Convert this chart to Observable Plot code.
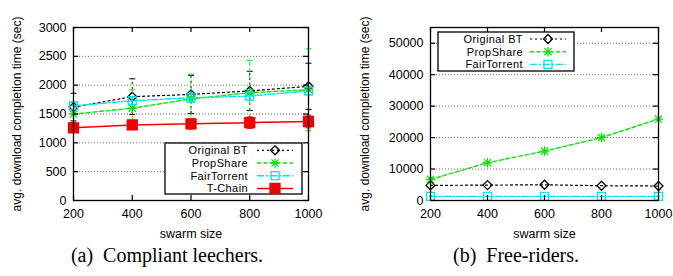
<!DOCTYPE html>
<html><head><meta charset="utf-8">
<script src="https://cdn.jsdelivr.net/npm/d3@7"></script>
<script src="https://cdn.jsdelivr.net/npm/@observablehq/plot@0.6"></script>
<style>
body{margin:0;background:#fff;}
#wrap{position:relative;width:673px;height:276px;overflow:hidden;font-family:"Liberation Sans",Arial,sans-serif;background:#fff;}
.panel{position:absolute;top:0;}
#overlay{position:absolute;left:0;top:0;}
</style></head><body><div id="wrap"></div>
<script>
// ---- data ----
const swarmSize = [200, 400, 600, 800, 1000];
const seriesNames = ["Original BT", "PropShare", "FairTorrent", "T-Chain"];

// (a) Compliant leechers: mean and error (half-range)
const compliantOriginalBT = [1620, 1800, 1840, 1900, 1980];
const compliantOriginalBTErr = [240, 310, 330, 340, 400];
const compliantPropShare = [1500, 1600, 1760, 1870, 1920];
const compliantPropShareErr = [150, 320, 430, 560, 710];
const compliantFairTorrent = [1640, 1730, 1780, 1810, 1900];
const compliantFairTorrentErr = [60, 70, 70, 70, 70];
const compliantTChain = [1260, 1310, 1330, 1350, 1370];
const compliantTChainErr = [50, 80, 90, 100, 110];

// (b) Free-riders
const freeOriginalBT = [4800, 4900, 5000, 4700, 4600];
const freePropShare = [6700, 12000, 15700, 20000, 25900];
const freeFairTorrent = [1300, 1300, 1300, 1300, 1300];

const compliantYTicks = [0, 500, 1000, 1500, 2000, 2500, 3000];
const freeYTicks = [0, 10000, 20000, 30000, 40000, 50000];
const yLabel = "avg. download completion time (sec)";
const xLabel = "swarm size";
const captionA = "(a)\u00a0 Compliant leechers.";
const captionB = "(b)\u00a0 Free-riders.";

// ---- symbols ----
const rad = s => Math.sqrt(s / Math.PI);
const sym = {
  diamond: {draw(c, s) { const r = rad(s); c.moveTo(0, -r); c.lineTo(r, 0); c.lineTo(0, r); c.lineTo(-r, 0); c.closePath(); }},
  square: {draw(c, s) { const r = rad(s); c.rect(-r, -r, 2 * r, 2 * r); }},
  asterisk: {draw(c, s) { const r = rad(s), d = r * 0.75;
    c.moveTo(-r, 0); c.lineTo(r, 0); c.moveTo(0, -r); c.lineTo(0, r);
    c.moveTo(-d, -d); c.lineTo(d, d); c.moveTo(-d, d); c.lineTo(d, -d); }},
  cap: {draw(c, s) { const r = rad(s); c.moveTo(-r, 0); c.lineTo(r, 0); }}
};

const styles = {
  "Original BT": {color: "#000000", dash: "2,3", symbol: sym.diamond, r: 4.5, fill: "none", width: 1.2},
  "PropShare": {color: "#11e011", dash: "4,2.5", symbol: sym.asterisk, r: 4.8, fill: "none", width: 1.4},
  "FairTorrent": {color: "#00e4f0", dash: "7,2,2,2", symbol: sym.square, r: 4, fill: "none", width: 1.4},
  "T-Chain": {color: "#f00000", dash: null, symbol: sym.square, r: 5, fill: "#f00000", width: 1.5}
};

const rows = (vals, errs) => swarmSize.map((x, i) => ({x, y: vals[i], e: errs ? errs[i] : 0}));

function seriesMarks(data, st, errors) {
  const m = [];
  const dashOpt = st.dash ? {strokeDasharray: st.dash} : {};
  if (errors) {
    m.push(Plot.ruleX(data, {x: "x", y1: d => d.y - d.e, y2: d => d.y + d.e, stroke: st.color, strokeWidth: 1, ...dashOpt}));
    m.push(Plot.dot(data, {x: "x", y: d => d.y - d.e, symbol: sym.cap, r: 3, stroke: st.color, strokeWidth: 1}));
    m.push(Plot.dot(data, {x: "x", y: d => d.y + d.e, symbol: sym.cap, r: 3, stroke: st.color, strokeWidth: 1}));
  }
  m.push(Plot.line(data, {x: "x", y: "y", stroke: st.color, strokeWidth: st.width, ...dashOpt}));
  m.push(Plot.dot(data, {x: "x", y: "y", symbol: st.symbol, r: st.r, stroke: st.color, fill: st.fill, strokeWidth: 1.3}));
  return m;
}

function panel({width, ml, mr, yDomain, yTicks, series, errors, labelDx}) {
  const height = 245, mt = 27, mb = 45;
  const pw = width - ml - mr, ph = height - mt - mb;
  const grid = yTicks.filter(v => v > yDomain[0] && v < yDomain[1]);
  const fmt = d => String(d);
  return Plot.plot({
    width, height, marginTop: mt, marginRight: mr, marginBottom: mb, marginLeft: ml,
    style: {fontFamily: "Liberation Sans, Arial, sans-serif", fontSize: "12.5px", color: "#000", background: "transparent"},
    x: {domain: [200, 1000]},
    y: {domain: yDomain},
    marks: [
      Plot.ruleY(grid, {y: d => d, stroke: "#666", strokeWidth: 1, strokeDasharray: "1,2"}),
      ...series.flatMap(s => seriesMarks(s.data, styles[s.name], errors)),
      Plot.frame({stroke: "#000", strokeWidth: 1.3}),
      Plot.tickX(swarmSize, {x: d => d, insetTop: ph - 5, stroke: "#000", strokeWidth: 1.2}),
      Plot.tickX(swarmSize, {x: d => d, insetBottom: ph - 5, stroke: "#000", strokeWidth: 1.2}),
      Plot.tickY(yTicks, {y: d => d, insetRight: pw - 5, stroke: "#000", strokeWidth: 1.2}),
      Plot.tickY(yTicks, {y: d => d, insetLeft: pw - 5, stroke: "#000", strokeWidth: 1.2}),
      Plot.axisX({ticks: swarmSize, tickSize: 0, tickPadding: 9, tickFormat: fmt, label: null, fontSize: 12.5}),
      Plot.axisY({ticks: yTicks, tickSize: 0, tickPadding: 7, tickFormat: fmt, label: null, fontSize: 12.5}),
      Plot.text([xLabel], {frameAnchor: "bottom", dy: 33, text: d => d, fontSize: 12.5, lineAnchor: "middle", textAnchor: "middle"}),
      Plot.text([yLabel], {frameAnchor: "left", dx: labelDx, rotate: -90, text: d => d, fontSize: 12, textAnchor: "middle", lineAnchor: "middle"})
    ]
  });
}

const wrap = document.getElementById("wrap");

const pa = panel({
  width: 340, ml: 73, mr: 32, yDomain: [0, 3000], yTicks: compliantYTicks, errors: true, labelDx: -56,
  series: [
    {name: seriesNames[0], data: rows(compliantOriginalBT, compliantOriginalBTErr)},
    {name: seriesNames[1], data: rows(compliantPropShare, compliantPropShareErr)},
    {name: seriesNames[2], data: rows(compliantFairTorrent, compliantFairTorrentErr)},
    {name: seriesNames[3], data: rows(compliantTChain, compliantTChainErr)}
  ]
});
pa.classList.add("panel"); pa.style.left = "0px";
wrap.appendChild(pa);

const pb = panel({
  width: 333, ml: 90, mr: 15, yDomain: [0, 55000], yTicks: freeYTicks, errors: false, labelDx: -65,
  series: [
    {name: seriesNames[0], data: rows(freeOriginalBT)},
    {name: seriesNames[1], data: rows(freePropShare)},
    {name: seriesNames[2], data: rows(freeFairTorrent)}
  ]
});
pb.classList.add("panel"); pb.style.left = "340px";
wrap.appendChild(pb);

// ---- legends & captions overlay ----
const ov = d3.select(wrap).append("svg").attr("id", "overlay").attr("width", 673).attr("height", 276)
  .style("font-family", "Liberation Sans, Arial, sans-serif");

function legend(box, textRight, s1, s2, rowYs, names) {
  ov.append("rect").attr("x", box[0]).attr("y", box[1]).attr("width", box[2]).attr("height", box[3])
    .attr("fill", "#fff").attr("stroke", "#000").attr("stroke-width", 1.3);
  names.forEach((n, i) => {
    const st = styles[n], y = rowYs[i];
    ov.append("text").attr("x", textRight).attr("y", y).attr("dy", "0.35em").attr("text-anchor", "end")
      .attr("font-size", 11).attr("letter-spacing", "0.4px").text(n);
    ov.append("line").attr("x1", s1).attr("x2", s2).attr("y1", y).attr("y2", y)
      .attr("stroke", st.color).attr("stroke-width", st.width).attr("stroke-dasharray", st.dash || null);
    const size = Math.PI * st.r * st.r;
    ov.append("path").attr("transform", `translate(${(s1 + s2) / 2},${y})`)
      .attr("d", d3.symbol(st.symbol, size)()).attr("stroke", st.color).attr("fill", st.fill).attr("stroke-width", 1.3);
  });
}
legend([165, 143, 137, 51], 248, 257, 293, [150.3, 163, 175.7, 188.4], seriesNames);
legend([438, 32, 136, 39], 523, 530, 566, [39, 51.7, 64.4], seriesNames.slice(0, 3));

ov.append("text").attr("x", 167).attr("y", 262).attr("text-anchor", "middle")
  .attr("font-family", "Liberation Serif, Times New Roman, serif").attr("font-size", 20).text(captionA);
ov.append("text").attr("x", 516).attr("y", 262).attr("text-anchor", "middle")
  .attr("font-family", "Liberation Serif, Times New Roman, serif").attr("font-size", 20).text(captionB);
</script>
</body></html>
